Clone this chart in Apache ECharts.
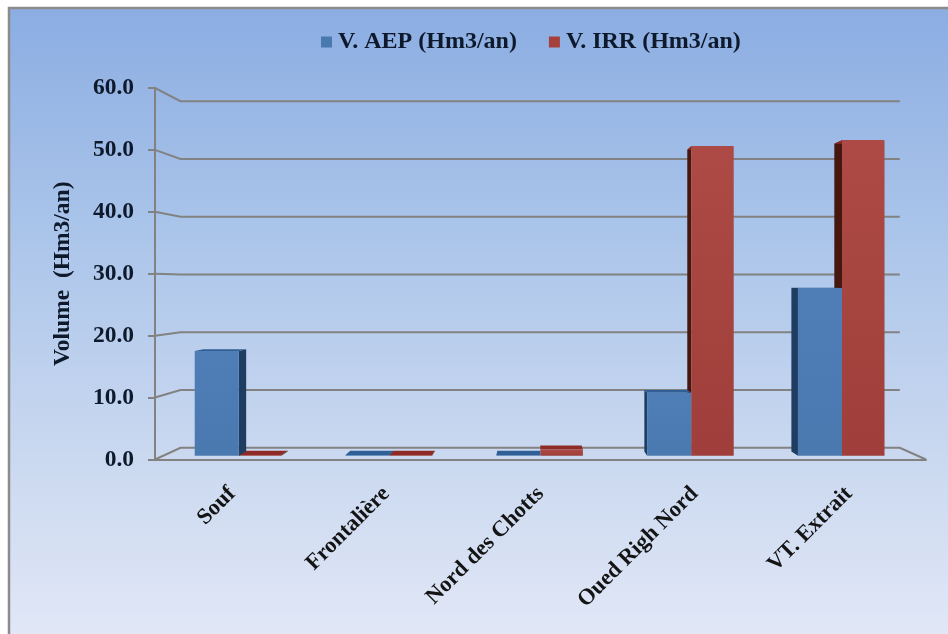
<!DOCTYPE html>
<html>
<head>
<meta charset="utf-8">
<title>Volumes AEP et IRR</title>
<style>html,body{margin:0;padding:0;background:#fff}#chart{width:948px;height:634px}</style>
<script src="https://cdn.jsdelivr.net/npm/echarts@6/dist/echarts.min.js"></script>
</head>
<body>
<div id="chart"></div>
<script>
// Volumes per zone, in Hm3/an
const categories = ['Souf', 'Frontalière', 'Nord des Chotts', 'Oued Righ Nord', 'VT. Extrait'];
const aepVolumes = [17.3, 0.1, 0.1, 10.4, 27.7];
const irrVolumes = [0.1, 0.1, 1.0, 51.1, 52.1];
const wallTicks = [0, 10, 20, 30, 40, 50, 60];
const aepName = 'V. AEP (Hm3/an)';
const irrName = 'V. IRR (Hm3/an)';

const serif = '"Liberation Serif", "Times New Roman", serif';
const axisGray = '#828282';

// One-point perspective shared by the walls and the bars
const vanish = [535, 285];
const backDepth = 0.933;   // scale of the back wall relative to the front axes
const barPlane = 0.978;    // scale of the bars' front faces
const barDepth = 0.975;    // scale of the bars' rear faces relative to their front faces
const shrink = (p, s) => [vanish[0] + (p[0] - vanish[0]) * s, vanish[1] + (p[1] - vanish[1]) * s];

function wallRenderer(params, api) {
  const sys = params.coordSys;
  const value = api.value(1);
  const front = api.coord([0, value]);
  const left = [sys.x, front[1]];
  const right = [sys.x + sys.width, front[1]];
  const points = [left, shrink(left, backDepth), shrink(right, backDepth)];
  if (value === 0) points.push(right);
  return {
    type: 'polyline',
    shape: { points },
    style: { stroke: axisGray, lineWidth: 2, fill: null },
    silent: true
  };
}

function barRenderer(side, colors) {
  return function (params, api) {
    const index = api.value(0);
    const top = api.coord([index, api.value(1)]);
    const base = api.coord([index, 0]);
    const band = api.size([1, 0])[0];
    const width = band * (side < 0 ? 0.292 : 0.282);
    const x0 = side < 0 ? top[0] - width : top[0];
    const x1 = side < 0 ? top[0] : top[0] + width;
    const tl = shrink([x0, top[1]], barPlane);
    const tr = shrink([x1, top[1]], barPlane);
    const bl = shrink([x0, base[1]], barPlane);
    const br = shrink([x1, base[1]], barPlane);
    const rear = p => shrink(p, barDepth);
    const poly = (points, fill) => ({ type: 'polygon', shape: { points }, style: { fill } });
    const children = [];
    if (tl[0] > vanish[0]) children.push(poly([tl, rear(tl), rear(bl), bl], colors.side));
    if (tr[0] < vanish[0]) children.push(poly([tr, rear(tr), rear(br), br], colors.side));
    children.push(poly([tl, tr, rear(tr), rear(tl)], colors.top));
    children.push(poly([tl, tr, br, bl], new echarts.graphic.LinearGradient(0, 0, 0, 1, [
      { offset: 0, color: colors.faceTop },
      { offset: 1, color: colors.faceBottom }
    ])));
    return { type: 'group', children };
  };
}

const aepColors = { faceTop: '#4f7db6', faceBottom: '#4a79b0', side: '#1f3d61', top: '#2f5f95' };
const irrColors = { faceTop: '#ad4a45', faceBottom: '#9f3e3a', side: '#45170f', top: '#8e2b27' };

const chart = echarts.init(document.getElementById('chart'), null, { renderer: 'canvas' });
chart.setOption({
  animation: false,
  graphic: [{
    type: 'rect',
    z: -10,
    silent: true,
    shape: { x: 9, y: 8, width: 960, height: 650 },
    style: {
      stroke: '#8c8c8c',
      lineWidth: 2.5,
      fill: new echarts.graphic.LinearGradient(0, 0, 0, 1, [
        { offset: 0, color: '#8badE2' },
        { offset: 0.35, color: '#abc5ea' },
        { offset: 0.7, color: '#cbd9f0' },
        { offset: 1, color: '#e4e9f7' }
      ])
    }
  }],
  legend: {
    data: [aepName, irrName],
    left: 321,
    top: 30,
    padding: 0,
    icon: 'rect',
    itemWidth: 11,
    itemHeight: 11,
    itemGap: 32,
    selectedMode: false,
    textStyle: { fontFamily: serif, fontWeight: 'bold', fontSize: 24, color: '#0e1a2c', padding: [0, 0, 0, 1] }
  },
  grid: { left: 155, top: 88, width: 771, height: 371.5 },
  xAxis: {
    type: 'category',
    data: categories,
    axisLine: { lineStyle: { color: axisGray, width: 2 } },
    axisTick: { length: 7, lineStyle: { color: axisGray, width: 2 } },
    axisLabel: {
      interval: 0,
      rotate: 45,
      margin: 31,
      fontFamily: serif,
      fontWeight: 'bold',
      fontSize: 22.5,
      color: '#141414'
    }
  },
  yAxis: {
    type: 'value',
    min: 0,
    max: 60,
    interval: 10,
    name: 'Volume  (Hm3/an)',
    nameLocation: 'middle',
    nameGap: 80,
    nameTextStyle: { fontFamily: serif, fontWeight: 'bold', fontSize: 23.5, color: '#0e1a2c' },
    splitLine: { show: false },
    axisLine: { show: true, lineStyle: { color: axisGray, width: 2 } },
    axisTick: { show: true, length: 7, lineStyle: { color: axisGray, width: 2 } },
    axisLabel: {
      margin: 21,
      formatter: v => v.toFixed(1),
      fontFamily: serif,
      fontWeight: 'bold',
      fontSize: 23.5,
      color: '#0e1a2c'
    }
  },
  series: [
    {
      type: 'custom',
      name: 'walls',
      z: 1,
      silent: true,
      clip: false,
      renderItem: wallRenderer,
      encode: { x: 0, y: 1 },
      data: wallTicks.map(v => [0, v])
    },
    {
      type: 'custom',
      name: irrName,
      z: 2,
      clip: false,
      itemStyle: { color: '#a5403c' },
      renderItem: barRenderer(1, irrColors),
      encode: { x: 0, y: 1 },
      data: irrVolumes.map((v, i) => [i, v])
    },
    {
      type: 'custom',
      name: aepName,
      z: 3,
      clip: false,
      itemStyle: { color: '#4a79b0' },
      renderItem: barRenderer(-1, aepColors),
      encode: { x: 0, y: 1 },
      data: aepVolumes.map((v, i) => [i, v])
    }
  ]
});
</script>
</body>
</html>
